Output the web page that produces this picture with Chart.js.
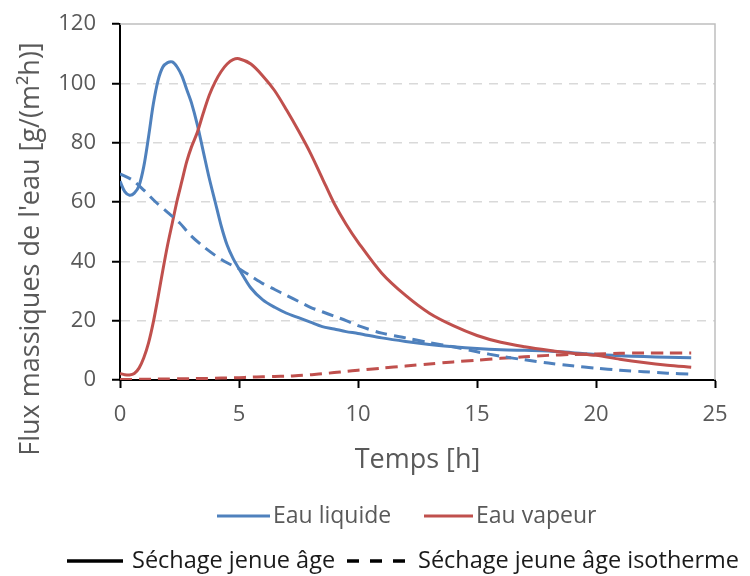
<!DOCTYPE html>
<html>
<head>
<meta charset="utf-8">
<script src="https://cdn.jsdelivr.net/npm/chart.js@4/dist/chart.umd.min.js"></script>
<style>
  html, body { margin: 0; padding: 0; background: #fff; }
  #wrap { position: relative; width: 750px; height: 576px; }
</style>
</head>
<body>
<div id="wrap"><canvas id="flux"></canvas></div>
<script>
// Temps [h]
const timeH = [0, 0.2, 0.4, 0.6, 0.8, 1.0, 1.2, 1.4, 1.6, 1.8, 2.0, 2.2, 2.4, 2.6, 2.8, 3.0,
    3.25, 3.5, 3.75, 4.0, 4.25, 4.5, 4.75, 5.0, 5.5, 6, 6.5, 7, 7.5, 8, 8.5, 9, 9.5, 10,
    11, 12, 13, 14, 15, 16, 17, 18, 19, 20, 21, 22, 23, 24];

// Séchage jeune âge (solid)
const liquide = [67, 63.5, 62.3, 63, 65.5, 72, 82, 93, 101, 105.5, 107, 107.2, 105.5, 102.5, 98, 93.5,
    86, 77, 68, 60, 52, 45.5, 41, 37.5, 31, 27, 24.5, 22.5, 21, 19.5, 18, 17.2, 16.3, 15.7,
    14.2, 13, 12, 11.2, 10.6, 10.2, 10, 9.8, 9.2, 8.6, 8.2, 7.9, 7.7, 7.5];
const vapeur = [2.2, 1.8, 1.7, 2.2, 4, 7.5, 12.5, 19.5, 28, 37, 45.5, 53, 60.5, 67, 73.5, 78.5,
    83.5, 90, 96, 100.5, 104, 106.5, 108, 108.3, 106.5, 102.5, 97.5, 91, 84, 76.5, 68, 59.5, 52.5, 46.5,
    36, 28.5, 22.5, 18.3, 15, 12.7, 11.2, 10, 9, 8.3, 7, 5.9, 5, 4.3];

// Séchage jeune âge isotherme (dashed)
const isoTime = [0, 0.5, 1, 1.5, 2, 2.5, 3, 3.5, 4, 4.5, 5, 5.5, 6, 6.5, 7, 7.5, 8, 8.5, 9, 9.5, 10,
    11, 12, 13, 14, 15, 16, 17, 18, 19, 20, 21, 22, 23, 24];
const liquideIso = [69.5, 67.5, 64, 60, 56.5, 53, 48.5, 45, 42, 39.5, 37.5, 35, 32.5, 30.5, 28.5, 26.5,
    24.5, 23, 21.5, 20, 18.3, 15.8, 14.2, 12.6, 11.2, 9.5, 8, 6.8, 5.7, 4.8, 4, 3.3, 2.8, 2.3, 2];
const vapeurIso = [0.2, 0.2, 0.25, 0.3, 0.3, 0.4, 0.45, 0.5, 0.6, 0.7, 0.8, 0.95, 1.1, 1.2, 1.3, 1.5,
    1.8, 2.1, 2.5, 2.9, 3.3, 4, 4.7, 5.4, 6.1, 6.7, 7.3, 7.8, 8.3, 8.6, 8.8, 9, 9.1, 9.1, 9.1];

const xTicks = [0, 5, 10, 15, 20, 25];
const yTicks = [0, 20, 40, 60, 80, 100, 120];

const BLUE = '#4f81bd';
const RED = '#c0504d';
const GREY_TXT = '#595959';
const FONT = "'Open Sans', 'DejaVu Sans', sans-serif";

const pairs = (xs, ys) => xs.map((x, i) => ({ x: x, y: ys[i] }));

function series(label, xs, ys, color, dashed) {
    return {
        label: label,
        data: pairs(xs, ys),
        borderColor: color,
        backgroundColor: color,
        borderWidth: 3,
        borderDash: dashed ? [12, 7] : [],
        pointRadius: 0,
        tension: 0.3,
        fill: false
    };
}

// frame, axis titles and the two legend rows
const decor = {
    id: 'decor',
    afterDraw(chart) {
        const { ctx, chartArea: a } = chart;
        ctx.save();
        ctx.strokeStyle = '#bfbfbf';
        ctx.lineWidth = 1.5;
        ctx.beginPath();
        ctx.moveTo(a.left, a.top);
        ctx.lineTo(a.right, a.top);
        ctx.lineTo(a.right, a.bottom);
        ctx.stroke();

        ctx.fillStyle = GREY_TXT;
        ctx.textAlign = 'center';
        ctx.textBaseline = 'middle';
        ctx.font = '27px ' + FONT;
        ctx.fillText('Temps [h]', (a.left + a.right) / 2, 460);

        ctx.save();
        ctx.translate(31, 249);
        ctx.rotate(-Math.PI / 2);
        ctx.font = '27px ' + FONT;
        ctx.fillText("Flux massiques de l'eau [g/(m²h)]", 0, 0);
        ctx.restore();

        // couleur = phase
        ctx.textAlign = 'left';
        ctx.font = '23px ' + FONT;
        const row1 = 516;
        [[217, 270, BLUE, 'Eau liquide'], [424, 473, RED, 'Eau vapeur']].forEach(([x0, x1, c, t]) => {
            ctx.strokeStyle = c;
            ctx.lineWidth = 3;
            ctx.setLineDash([]);
            ctx.beginPath();
            ctx.moveTo(x0, row1);
            ctx.lineTo(x1, row1);
            ctx.stroke();
            ctx.fillText(t, x1 + 3, row1);
        });

        // trait = cas de séchage
        const row2 = 561;
        ctx.fillStyle = '#1a1a1a';
        ctx.strokeStyle = '#000';
        ctx.lineWidth = 3.5;
        ctx.font = '23.5px ' + FONT;
        ctx.beginPath();
        ctx.moveTo(67, row2);
        ctx.lineTo(123, row2);
        ctx.stroke();
        ctx.fillText('Séchage jenue âge', 132, row2);
        ctx.setLineDash([12, 11]);
        ctx.beginPath();
        ctx.moveTo(347, row2);
        ctx.lineTo(408, row2);
        ctx.stroke();
        ctx.setLineDash([]);
        ctx.fillText('Séchage jeune âge isotherme', 418, row2);
        ctx.restore();
    }
};

new Chart(document.getElementById('flux'), {
    type: 'line',
    data: {
        datasets: [
            series('Eau liquide - isotherme', isoTime, liquideIso, BLUE, true),
            series('Eau vapeur - isotherme', isoTime, vapeurIso, RED, true),
            series('Eau vapeur', timeH, vapeur, RED, false),
            series('Eau liquide', timeH, liquide, BLUE, false)
        ]
    },
    options: {
        responsive: true,
        maintainAspectRatio: false,
        animation: false,
        layout: { padding: { top: 24, right: 35, left: 0, bottom: 0 } },
        plugins: { legend: { display: false }, tooltip: { enabled: false } },
        scales: {
            x: {
                type: 'linear',
                min: 0,
                max: 25,
                afterFit: (s) => { s.height = 196; s.paddingLeft = 0; s.paddingRight = 0; },
                afterBuildTicks: (s) => { s.ticks = xTicks.map(v => ({ value: v })); },
                ticks: { color: GREY_TXT, font: { family: FONT, size: 22 }, padding: 14 },
                grid: { drawOnChartArea: false, tickLength: 8, tickColor: '#000', tickWidth: 2 },
                border: { color: '#000', width: 2 }
            },
            y: {
                min: 0,
                max: 120,
                afterFit: (s) => { s.width = 120; s.paddingTop = 0; s.paddingBottom = 0; },
                afterBuildTicks: (s) => { s.ticks = yTicks.map(v => ({ value: v })); },
                ticks: { color: GREY_TXT, font: { family: FONT, size: 22 }, padding: 16 },
                grid: {
                    color: (c) => (c.tick && (c.tick.value === 0 || c.tick.value === 120)) ? 'rgba(0,0,0,0)' : '#d9d9d9',
                    lineWidth: 1.5,
                    tickLength: 8,
                    tickColor: '#000',
                    tickWidth: 2,
                    tickBorderDash: []
                },
                border: { color: '#000', width: 2, dash: [9, 7] }
            }
        }
    },
    plugins: [decor]
});
</script>
</body>
</html>
